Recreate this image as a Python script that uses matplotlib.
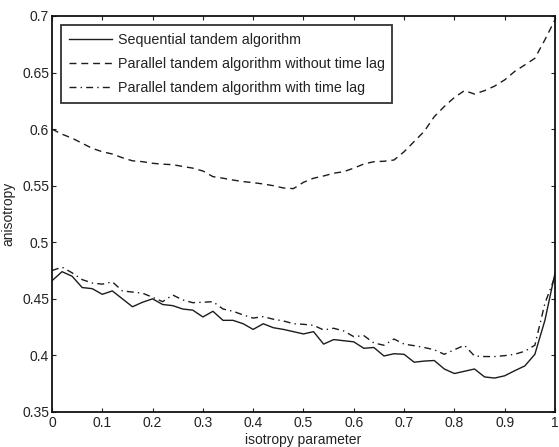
import numpy as np
import matplotlib.pyplot as plt

plt.rcParams['font.family'] = ['Liberation Sans', 'DejaVu Sans']

x = np.round(np.arange(0, 1.0001, 0.02), 2)

sequential = [0.466, 0.474, 0.470, 0.460, 0.459, 0.454, 0.457, 0.450, 0.443, 0.447,
              0.450, 0.445, 0.444, 0.441, 0.440, 0.434, 0.439, 0.431, 0.431, 0.428,
              0.423, 0.428, 0.4245, 0.423, 0.421, 0.419, 0.421, 0.410, 0.414, 0.413,
              0.412, 0.4063, 0.407, 0.3995, 0.4015, 0.401, 0.394, 0.395, 0.3955, 0.388,
              0.384, 0.386, 0.388, 0.381, 0.380, 0.382, 0.3865, 0.3907, 0.401, 0.431,
              0.4726]

parallel_no_lag = [0.600, 0.5955, 0.592, 0.5875, 0.583, 0.580, 0.578, 0.5747, 0.572, 0.5712,
                   0.5698, 0.569, 0.5686, 0.567, 0.5655, 0.563, 0.558, 0.5566, 0.555, 0.5536,
                   0.5527, 0.5515, 0.550, 0.548, 0.5474, 0.553, 0.5566, 0.5586, 0.561, 0.5624,
                   0.5655, 0.5692, 0.5712, 0.5716, 0.5727, 0.580, 0.589, 0.598, 0.611, 0.620,
                   0.628, 0.634, 0.631, 0.634, 0.638, 0.6435, 0.651, 0.6567, 0.6626, 0.679,
                   0.6966]

parallel_lag = [0.475, 0.478, 0.473, 0.467, 0.464, 0.463, 0.465, 0.457, 0.456, 0.455,
                0.4514, 0.4475, 0.4534, 0.449, 0.4466, 0.447, 0.4475, 0.441, 0.439, 0.4358,
                0.433, 0.4343, 0.432, 0.4305, 0.428, 0.4275, 0.4266, 0.4225, 0.424, 0.4216,
                0.4166, 0.4175, 0.411, 0.409, 0.4145, 0.410, 0.4086, 0.407, 0.405, 0.401,
                0.405, 0.409, 0.3995, 0.399, 0.399, 0.3998, 0.401, 0.4037, 0.409, 0.446,
                0.4696]

labels = ['Sequential tandem algorithm',
          'Parallel tandem algorithm without time lag',
          'Parallel tandem algorithm with time lag']

fig = plt.figure(figsize=(5.59, 4.47), dpi=100)
ax = fig.add_axes([0.093, 0.0783, 0.8998, 0.886])

line_col = '#1c1c1c'
ax.plot(x, sequential, color=line_col, linestyle='-', linewidth=1.0, label=labels[0])
ax.plot(x, parallel_no_lag, color=line_col, linestyle=(0, (5, 3.5)), linewidth=1.0, label=labels[1])
ax.plot(x, parallel_lag, color=line_col, linestyle=(0, (5, 3, 1, 3)), linewidth=1.0, label=labels[2])

ax.set_xlim(0, 1)
ax.set_ylim(0.35, 0.7)
ax.set_xticks(np.arange(0, 1.01, 0.1))
ax.set_xticklabels(['0', '0.1', '0.2', '0.3', '0.4', '0.5', '0.6', '0.7', '0.8', '0.9', '1'])
ax.set_yticks(np.arange(0.35, 0.701, 0.05))
ax.set_yticklabels(['0.35', '0.4', '0.45', '0.5', '0.55', '0.6', '0.65', '0.7'])
ax.tick_params(direction='in', top=True, right=True, labelsize=10, length=3, width=0.8,
               colors='#222222', pad=3)
ax.tick_params(axis='y', pad=2)
for s in ax.spines.values():
    s.set_linewidth(1.3)
    s.set_color('#111111')

ax.set_xlabel('isotropy parameter', fontsize=10, labelpad=2, color='#222222')
ax.set_ylabel('anisotropy', fontsize=10, labelpad=5, color='#222222')

leg = ax.legend(loc='upper left', fontsize=10.3, frameon=True, fancybox=False,
                edgecolor='black', borderaxespad=0.63, handlelength=3.0,
                handletextpad=0.4, labelspacing=0.72, borderpad=0.55)
leg.get_frame().set_linewidth(1.3)
for t in leg.get_texts():
    t.set_color('#222222')

plt.savefig('out.png', dpi=100)
